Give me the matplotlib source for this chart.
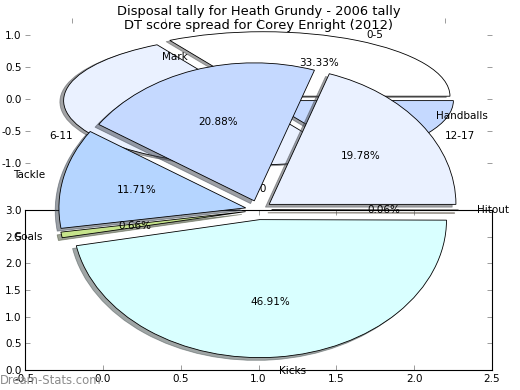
import matplotlib
matplotlib.use('Agg')
import matplotlib.pyplot as plt

plt.rcParams['axes.unicode_minus'] = False
plt.rcParams['font.family'] = ['DejaVu Sans']

# ---------------- data ----------------
title_disposal = "Disposal tally for Heath Grundy - 2006 tally"
title_dt = "DT score spread for Corey Enright (2012)"

dt_labels = ['0-5', '6-11', '12-17']
dt_values = [33.33, 50.00, 16.67]

disp_labels = ['Handballs', 'Mark', 'Tackle', 'Goals', 'Kicks', 'Hitout']
disp_values = [19.78, 20.88, 11.71, 0.66, 46.91, 0.06]

palette = ['#FFFFFF', '#EAF1FF', '#C5D9FF', '#B5D5FF', '#C6E48B', '#D9FFFF', '#FFE4B5']

dt_ticks = [-1.0, -0.5, 0.0, 0.5, 1.0]
lower_xticks = [-0.5, 0.0, 0.5, 1.0, 1.5, 2.0, 2.5]
lower_yticks = [0.0, 0.5, 1.0, 1.5, 2.0, 2.5, 3.0]

watermark = 'Dream-Stats.com'

# ---------------- layout ----------------
W, H = 520, 390
fig = plt.figure(figsize=(W / 100, H / 100), dpi=100)


def box(x0, y0, x1, y1):
    """pixel box (top-left origin) -> figure fraction rect"""
    return [x0 / W, 1 - y1 / H, (x1 - x0) / W, (y1 - y0) / H]


FS = 7.5
SH = 0.02 * 72 / 100  # shadow offset of 0.02 data units
tick_kw = dict(direction='in', top=True, right=True, length=3.5, width=0.6,
               color='0.55', labelcolor='black', labelsize=FS)
wedge_kw = dict(edgecolor='black', linewidth=0.6)

# upper axes: DT score pie
ax_dt = fig.add_axes(box(25, 18.4, 492, 179.6))
ax_dt.pie(dt_values, explode=[0.05] * len(dt_values), labels=dt_labels,
          colors=palette[:len(dt_values)], autopct='%1.2f%%',
          shadow={'ox': -SH, 'oy': -SH}, startangle=0,
          labeldistance=1.1, pctdistance=0.6,
          wedgeprops=wedge_kw, textprops={'fontsize': FS})
ax_dt.set_aspect('auto')
ax_dt.set_xlim(-1.25, 1.25)
ax_dt.set_ylim(-1.25, 1.25)
ax_dt.set_frame_on(False)
ax_dt.set_xticks(dt_ticks)
ax_dt.set_yticks(dt_ticks)
ax_dt.tick_params(axis='both', **tick_kw)
ax_dt.tick_params(axis='y', pad=2.5)
ax_dt.tick_params(axis='x', pad=3)

# lower framed axes
ax_low = fig.add_axes(box(25, 210, 492, 370))
ax_low.set_xlim(-0.5, 2.5)
ax_low.set_ylim(0, 3)
ax_low.set_xticks(lower_xticks)
ax_low.set_yticks(lower_yticks)
ax_low.tick_params(axis='both', **tick_kw)
ax_low.tick_params(axis='y', pad=2.5)
ax_low.tick_params(axis='x', pad=3)
for s in ax_low.spines.values():
    s.set_linewidth(0.8)

# big disposal pie
ax_big = fig.add_axes(box(25, 37.5, 492, 382.5))
ax_big.pie(disp_values, explode=[0.07] * len(disp_values), labels=disp_labels,
           colors=palette[1:1 + len(disp_values)], autopct='%1.2f%%',
           shadow={'ox': -SH, 'oy': -SH}, startangle=0,
           labeldistance=1.1, pctdistance=0.6,
           wedgeprops=wedge_kw, textprops={'fontsize': FS})
ax_big.set_aspect('auto')
ax_big.set_xlim(-1.25, 1.25)
ax_big.set_ylim(-1.25, 1.25)
ax_big.set_axis_off()

# titles
cx = 258.5 / W
fig.text(cx, 1 - 14.5 / H, title_disposal, ha='center', va='baseline', fontsize=9.4)
fig.text(cx, 1 - 29.5 / H, title_dt, ha='center', va='baseline', fontsize=9.4)

# watermark
fig.text(0.0, 1 - 384.5 / H, watermark, ha='left', va='baseline',
         fontsize=8.4, color='#8c8c8c')

fig.savefig('out.png', dpi=100)
